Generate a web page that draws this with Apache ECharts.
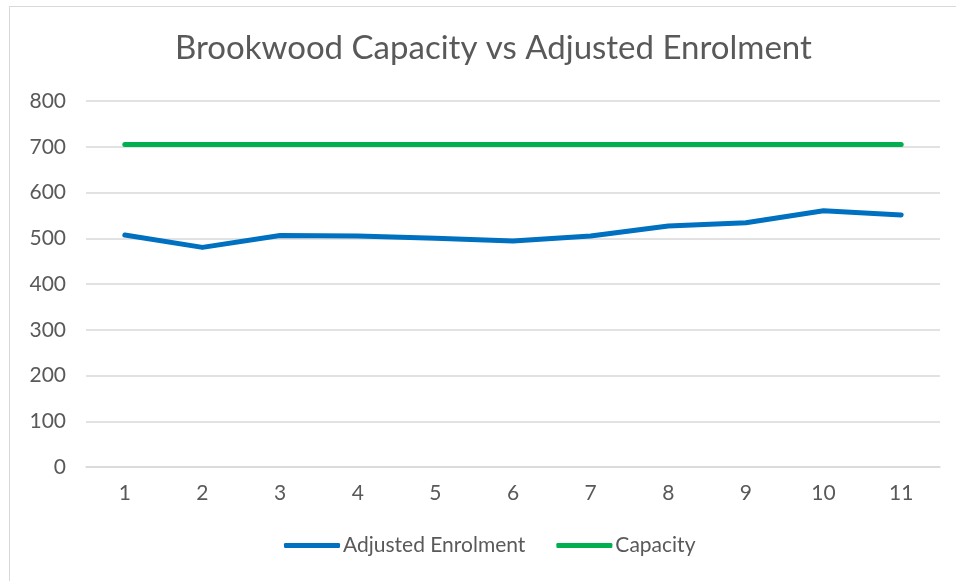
<!DOCTYPE html>
<html><head><meta charset="utf-8">
<script src="https://cdn.jsdelivr.net/npm/echarts@6/dist/echarts.min.js"></script>
<style>
html,body{margin:0;padding:0;background:#fff;}
#frame{position:absolute;left:9px;top:6px;width:960px;height:590px;border:1px solid #d9d9d9;box-sizing:border-box;}
#c{position:absolute;left:0;top:0;width:956px;height:581px;}
</style></head>
<body>
<div id="frame"></div>
<div id="c"></div>
<script>
var categories = ['1','2','3','4','5','6','7','8','9','10','11'];
var enrolment = [507, 480, 506, 505, 500, 494, 505, 527, 534, 560, 551];
var capacity = [705, 705, 705, 705, 705, 705, 705, 705, 705, 705, 705];
var yTicks = [0, 100, 200, 300, 400, 500, 600, 700, 800];

var chart = echarts.init(document.getElementById('c'), null, {renderer:'canvas'});
var font = '"Lato", "Noto Sans", sans-serif';
chart.setOption({
  backgroundColor: 'transparent',
  animation: false,
  title: {
    text: 'Brookwood Capacity vs Adjusted Enrolment',
    left: 170, top: 27,
    textStyle: {fontFamily: font, fontSize: 33, fontWeight: 'normal', color: '#595959'}
  },
  grid: {left: 86, right: 16, top: 101, bottom: 114, containLabel: false},
  legend: {
    bottom: 20, left: 279, itemWidth: 56, itemHeight: 5, itemGap: 31,
    icon: 'roundRect',
    textStyle: {fontFamily: font, fontSize: 21, color: '#595959', padding: [0,0,0,-2]},
    data: ['Adjusted Enrolment', 'Capacity']
  },
  xAxis: {
    type: 'category', data: categories, boundaryGap: true,
    axisLine: {show: true, lineStyle: {color: '#d9d9d9', width: 1.5}},
    axisTick: {show: false},
    axisLabel: {fontFamily: font, fontSize: 21, color: '#595959', margin: 16}
  },
  yAxis: {
    type: 'value', min: yTicks[0], max: yTicks[yTicks.length-1], interval: 100,
    axisLine: {show: false}, axisTick: {show: false},
    splitLine: {lineStyle: {color: '#d9d9d9', width: 1.5}},
    axisLabel: {fontFamily: font, fontSize: 21, color: '#595959', margin: 20}
  },
  series: [
    {name: 'Adjusted Enrolment', type: 'line', data: enrolment, showSymbol: false, symbol: 'none',
     lineStyle: {color: '#0070C0', width: 5, cap: 'round', join: 'round'}, itemStyle: {color: '#0070C0'}},
    {name: 'Capacity', type: 'line', data: capacity, showSymbol: false, symbol: 'none',
     lineStyle: {color: '#00B050', width: 5, cap: 'round', join: 'round'}, itemStyle: {color: '#00B050'}}
  ]
});
</script>
</body></html>
